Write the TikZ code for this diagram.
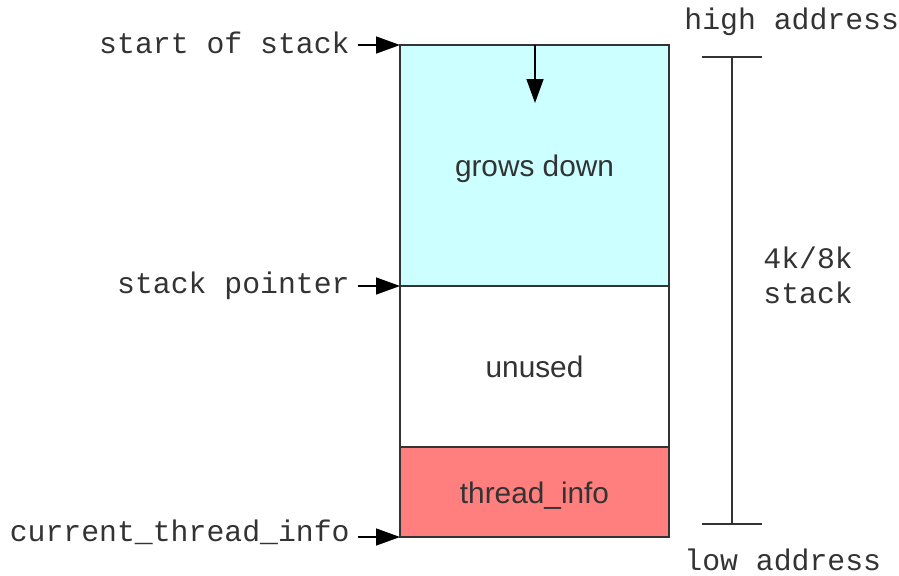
\documentclass[tikz,border=0pt]{standalone}
\usepackage{fontspec}
\setmainfont{Liberation Sans}
\setmonofont{Liberation Mono}
\usetikzlibrary{arrows.meta, positioning}

\definecolor{stackcyan}{HTML}{CCFFFF}
\definecolor{infored}{HTML}{FF7F7F}
\definecolor{inkgray}{HTML}{333333}

\tikzset{
  region/.style = {draw=inkgray, line width=0.75pt, minimum width=134.5pt,
    inner sep=0pt, outer sep=0pt, text height=11pt, text depth=0pt,
    text=inkgray, font=\fontsize{14.9}{16}\selectfont},
  memlabel/.style = {inner sep=4pt, text=inkgray,
    font=\ttfamily\fontsize{14.9}{15}\selectfont},
  pointer/.style = {-{Triangle[length=12pt, width=8.5pt]}, line width=0.75pt, draw=black}
}

\begin{document}
\begin{tikzpicture}[x=0.5pt, y=-0.5pt]
    \useasboundingbox (0,0) rectangle (899,575);

    \node (grows) [region, fill=stackcyan, minimum height=120.5pt, anchor=north west] at (400,45) {grows down};
    \node (unused) [region, minimum height=80.5pt, below=0pt of grows] {unused};
    \node (tinfo) [region, fill=infored, minimum height=45pt, below=0pt of unused] {thread\_info};

    \node (start) [memlabel, anchor=base east] at (358,53) {start of stack};
    \node (sp) [memlabel, anchor=base east] at (358,293) {stack pointer};
    \node (cur) [memlabel, anchor=base east] at (358,541) {current\_thread\_info};

    \draw [pointer] (start.east |- grows.north west) -- (grows.north west);
    \draw [pointer] (sp.east |- unused.north west) -- (unused.north west);
    \draw [pointer] (cur.east |- tinfo.south west) -- (tinfo.south west);

    % growth direction
    \coordinate (growtip) at (535,103);
    \draw [pointer] (growtip |- grows.north) -- (growtip);

    % size bracket
    \coordinate (hi) at (732,57);
    \coordinate (lo) at (732,524);
    \draw [line width=0.75pt, draw=inkgray] (hi) -- (lo)
      ([xshift=-15pt]hi) -- ([xshift=15pt]hi)
      ([xshift=-15pt]lo) -- ([xshift=15pt]lo);

    \node (size) [memlabel, inner sep=0pt, align=left, anchor=base west,
      font=\ttfamily\fontsize{14.9}{17.5}\selectfont] at (763,303) {4k/8k\\stack};
    \node (high) [memlabel, inner sep=0pt, anchor=base west] at (684,29) {high address};
    \node (low) [memlabel, inner sep=0pt, anchor=base west] at (684,570) {low address};
\end{tikzpicture}
\end{document}
